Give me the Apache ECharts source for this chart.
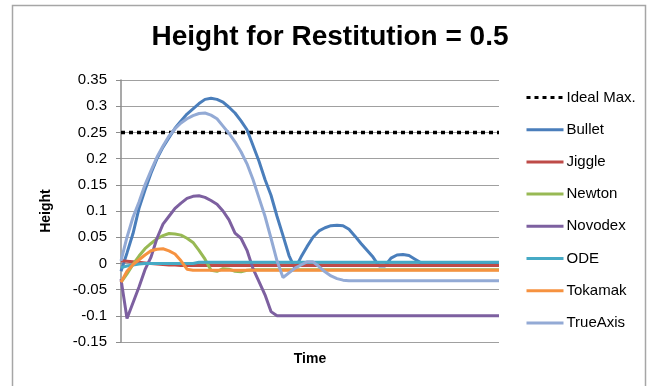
<!DOCTYPE html>
<html>
<head>
<meta charset="utf-8">
<script src="https://cdn.jsdelivr.net/npm/echarts@6/dist/echarts.min.js"></script>
<style>html,body{margin:0;padding:0;background:#fff}#c{width:650px;height:386px}</style>
</head>
<body>
<div id="c"></div>
<script>
var times = [0,1,2,3,4,5,6,7,8,9,10,11,12,13,14,15,16,17,18,19,20,21,22,23,24,25,26,27,28,29,30,31,32,33,34,35,36,37,38,39,40,41,42,43,44,45,46,47,48,49,50,51,52,53,54,55,56,57,58,59,60,61,62,63];
var yTicks = [-0.15,-0.1,-0.05,0,0.05,0.1,0.15,0.2,0.25,0.3,0.35];
var seriesNames = ['Ideal Max.','Bullet','Jiggle','Newton','Novodex','ODE','Tokamak','TrueAxis'];
var idealMax = [0.25,0.25,0.25,0.25,0.25,0.25,0.25,0.25,0.25,0.25,0.25,0.25,0.25,0.25,0.25,0.25,0.25,0.25,0.25,0.25,0.25,0.25,0.25,0.25,0.25,0.25,0.25,0.25,0.25,0.25,0.25,0.25,0.25,0.25,0.25,0.25,0.25,0.25,0.25,0.25,0.25,0.25,0.25,0.25,0.25,0.25,0.25,0.25,0.25,0.25,0.25,0.25,0.25,0.25,0.25,0.25,0.25,0.25,0.25,0.25,0.25,0.25,0.25,0.25];
var bullet = [-0.015,0.02,0.057,0.105,0.14,0.172,0.2,0.222,0.24,0.258,0.272,0.285,0.295,0.305,0.313,0.315,0.313,0.308,0.298,0.287,0.272,0.255,0.225,0.195,0.16,0.13,0.09,0.053,0.015,-0.01,0.012,0.032,0.05,0.062,0.068,0.072,0.073,0.072,0.065,0.052,0.038,0.025,0.012,-0.005,-0.005,0.01,0.016,0.017,0.015,0.008,0.001,0.001,0.001,0.001,0.001,0.001,0.001,0.001,0.001,0.001,0.001,0.001,0.001,0.001];
var jiggle = [0.005,0.004,0.003,0.002,0.001,0,-0.001,-0.002,-0.003,-0.003,-0.004,-0.004,-0.004,-0.004,-0.004,-0.004,-0.004,-0.004,-0.004,-0.004,-0.004,-0.004,-0.004,-0.004,-0.004,-0.004,-0.004,-0.004,-0.004,-0.004,-0.004,-0.004,-0.004,-0.004,-0.004,-0.004,-0.004,-0.004,-0.004,-0.004,-0.004,-0.004,-0.004,-0.004,-0.004,-0.004,-0.004,-0.004,-0.004,-0.004,-0.004,-0.004,-0.004,-0.004,-0.004,-0.004,-0.004,-0.004,-0.004,-0.004,-0.004,-0.004,-0.004,-0.004];
var newton = [-0.036,-0.02,-0.002,0.014,0.028,0.038,0.047,0.053,0.057,0.056,0.054,0.048,0.04,0.025,0.008,-0.013,-0.015,-0.01,-0.011,-0.015,-0.016,-0.013,-0.012,-0.012,-0.012,-0.012,-0.012,-0.012,-0.012,-0.012,-0.012,-0.012,-0.012,-0.012,-0.012,-0.012,-0.012,-0.012,-0.012,-0.012,-0.012,-0.012,-0.012,-0.012,-0.012,-0.012,-0.012,-0.012,-0.012,-0.012,-0.012,-0.012,-0.012,-0.012,-0.012,-0.012,-0.012,-0.012,-0.012,-0.012,-0.012,-0.012,-0.012,-0.012];
var novodex = [-0.03,-0.105,-0.075,-0.045,-0.012,0.012,0.048,0.075,0.09,0.105,0.115,0.124,0.128,0.129,0.126,0.12,0.113,0.1,0.083,0.058,0.048,0.025,-0.01,-0.035,-0.06,-0.092,-0.1,-0.1,-0.1,-0.1,-0.1,-0.1,-0.1,-0.1,-0.1,-0.1,-0.1,-0.1,-0.1,-0.1,-0.1,-0.1,-0.1,-0.1,-0.1,-0.1,-0.1,-0.1,-0.1,-0.1,-0.1,-0.1,-0.1,-0.1,-0.1,-0.1,-0.1,-0.1,-0.1,-0.1,-0.1,-0.1,-0.1,-0.1];
var ode = [-0.008,-0.005,-0.003,-0.001,0,0,0,0,0,0,0,0,0,0.002,0.002,0.002,0.002,0.002,0.002,0.002,0.002,0.002,0.002,0.002,0.002,0.002,0.002,0.002,0.002,0.002,0.002,0.002,0.002,0.002,0.002,0.002,0.002,0.002,0.002,0.002,0.002,0.002,0.002,0.002,0.002,0.002,0.002,0.002,0.002,0.002,0.002,0.002,0.002,0.002,0.002,0.002,0.002,0.002,0.002,0.002,0.002,0.002,0.002,0.002];
var tokamak = [-0.036,-0.015,-0.002,0.007,0.016,0.024,0.027,0.028,0.024,0.018,0.005,-0.011,-0.013,-0.013,-0.013,-0.013,-0.013,-0.013,-0.013,-0.013,-0.013,-0.013,-0.013,-0.013,-0.013,-0.013,-0.013,-0.013,-0.013,-0.013,-0.013,-0.013,-0.013,-0.013,-0.013,-0.013,-0.013,-0.013,-0.013,-0.013,-0.013,-0.013,-0.013,-0.013,-0.013,-0.013,-0.013,-0.013,-0.013,-0.013,-0.013,-0.013,-0.013,-0.013,-0.013,-0.013,-0.013,-0.013,-0.013,-0.013,-0.013,-0.013,-0.013,-0.013];
var trueAxis = [0.005,0.05,0.088,0.117,0.15,0.177,0.203,0.224,0.243,0.257,0.268,0.276,0.282,0.286,0.287,0.283,0.276,0.262,0.248,0.232,0.213,0.19,0.16,0.125,0.09,0.048,0.005,-0.027,-0.018,-0.009,-0.003,0.003,0.003,-0.006,-0.016,-0.024,-0.029,-0.032,-0.033,-0.033,-0.033,-0.033,-0.033,-0.033,-0.033,-0.033,-0.033,-0.033,-0.033,-0.033,-0.033,-0.033,-0.033,-0.033,-0.033,-0.033,-0.033,-0.033,-0.033,-0.033,-0.033,-0.033,-0.033,-0.033];

var seriesData = [idealMax, bullet, jiggle, newton, novodex, ode, tokamak, trueAxis];
var colors = ['#000000','#4A7EBB','#BE4B48','#98B954','#7D60A0','#46AAC5','#F69240','#93AAD5'];
var FONT = 'Liberation Sans';

var series = seriesNames.map(function (name, i) {
  var ls = { width: 3, color: colors[i] };
  if (i === 0) { ls.type = [4, 4]; ls.width = 3.5; ls.cap = 'butt'; }
  return {
    name: name, type: 'line', data: seriesData[i], symbol: 'none',
    showSymbol: false, smooth: false, animation: false,
    lineStyle: ls, itemStyle: { color: colors[i] }, z: 2 + i
  };
});

var chart = echarts.init(document.getElementById('c'), null, { renderer: 'canvas' });
chart.setOption({
  animation: false,
  backgroundColor: '#ffffff',
  title: {
    text: 'Height for Restitution = 0.5',
    left: 325, top: 18, textAlign: 'center',
    textStyle: { fontFamily: FONT, fontWeight: 'bold', fontSize: 28, color: '#000' }
  },
  graphic: [{
    type: 'rect', silent: true, z: -1,
    shape: { x: 12.5, y: 5.5, width: 633, height: 400 },
    style: { fill: 'none', stroke: '#a6a6a6', lineWidth: 1.5 }
  }],
  legend: {
    orient: 'vertical', left: 525, top: 90, padding: 0,
    itemWidth: 37, itemHeight: 14, itemGap: 17.2,
    itemStyle: { opacity: 0 },
    lineStyle: { width: 3 },
    data: seriesNames,
    textStyle: { fontFamily: FONT, fontSize: 15, color: '#000', padding: [0, 0, 0, -2] }
  },
  grid: { left: 121, right: 151, top: 80, bottom: 44, containLabel: false },
  xAxis: {
    type: 'category', data: times, boundaryGap: false,
    axisLine: { show: false }, axisTick: { show: false }, axisLabel: { show: false },
    splitLine: { show: false },
    name: 'Time', nameLocation: 'middle', nameGap: 10,
    nameTextStyle: { fontFamily: FONT, fontWeight: 'bold', fontSize: 14, color: '#000' }
  },
  yAxis: {
    type: 'value', min: yTicks[0], max: yTicks[yTicks.length - 1], interval: 0.05,
    axisLine: { show: true, lineStyle: { color: '#8c8c8c', width: 1.5 } },
    axisTick: { show: true, length: 5, lineStyle: { color: '#8c8c8c' } },
    axisLabel: {
      fontFamily: FONT, fontSize: 15, color: '#000', margin: 14,
      formatter: function (v) { return String(+(+v).toFixed(2)); }
    },
    splitLine: { show: true, lineStyle: { color: '#a0a0a0', width: 1 } },
    name: 'Height', nameLocation: 'middle', nameGap: 68, nameRotate: 90,
    nameTextStyle: { fontFamily: FONT, fontWeight: 'bold', fontSize: 14, color: '#000' }
  },
  series: series
});
</script>
</body>
</html>
